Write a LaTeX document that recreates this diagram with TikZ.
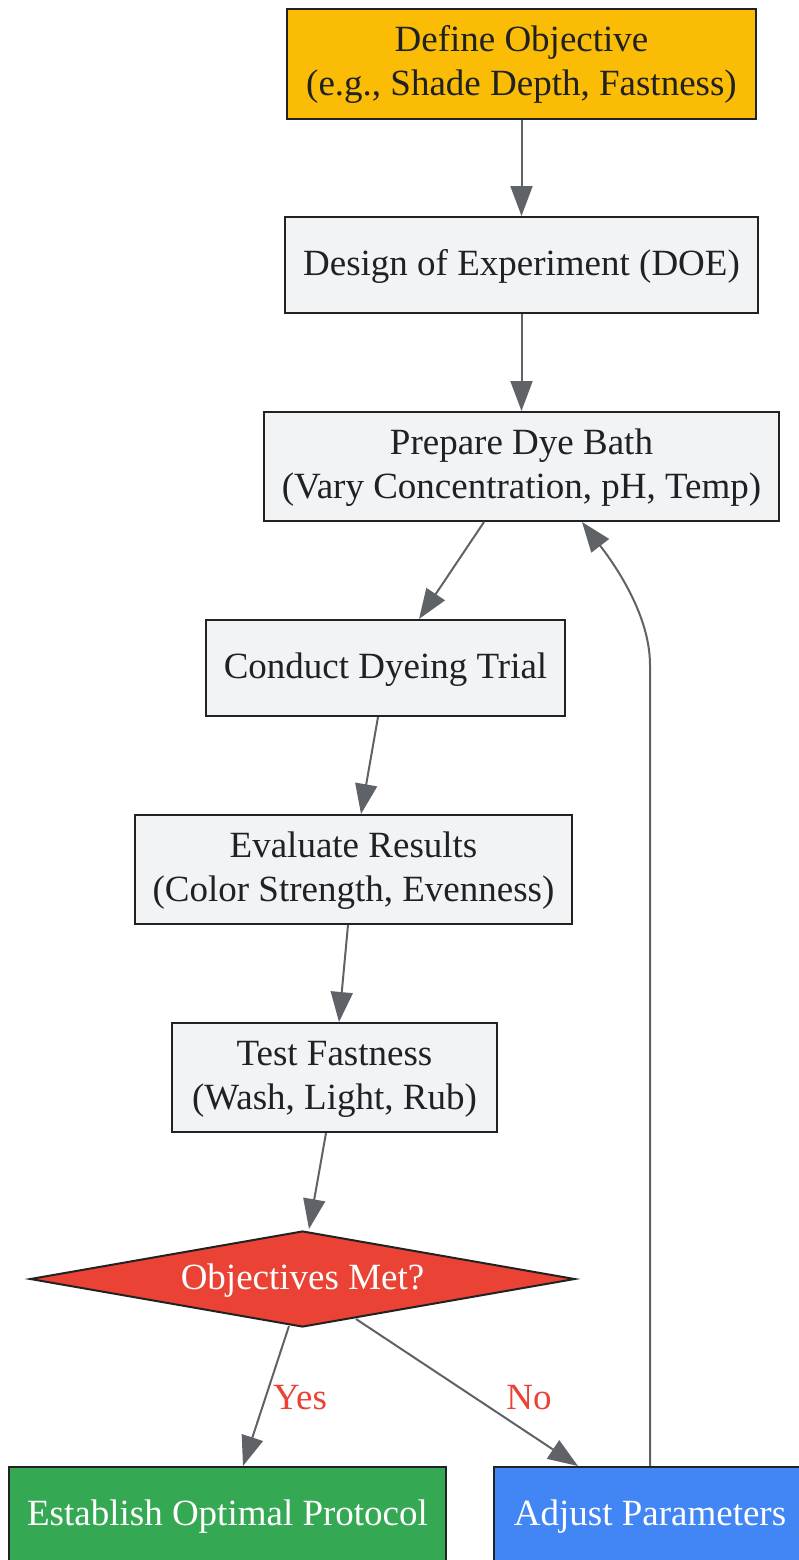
\documentclass[tikz,border=0pt]{standalone}
\usepackage{fontspec}
\setmainfont{Liberation Serif}
\usetikzlibrary{shapes.geometric,arrows.meta,calc}
\definecolor{gyellow}{HTML}{FBBC05}
\definecolor{gred}{HTML}{EA4335}
\definecolor{ggreen}{HTML}{34A853}
\definecolor{gblue}{HTML}{4285F4}
\definecolor{lightbox}{HTML}{F1F3F5}
\definecolor{edgegray}{HTML}{5F6368}
\definecolor{borderdark}{HTML}{222222}
\definecolor{textdark}{HTML}{202124}
\newcommand\mystrut{\rule[-8pt]{0pt}{36pt}}
\begin{document}
\begin{tikzpicture}[x=1pt,y=-1pt,
  every node/.style={font=\fontsize{37}{44}\selectfont},
  box/.style={draw=borderdark, line width=2pt, fill=lightbox, text=textdark, align=center, inner sep=0pt},
  decision/.style={diamond, draw=borderdark, line width=2pt, fill=gred, text=white, inner sep=0pt, aspect=5.68},
  flow/.style={draw=edgegray, line width=2pt, -{Triangle[length=30pt,width=22pt]}},
  lbl/.style={text=gred, inner sep=0pt}
]
\useasboundingbox[fill=white] (0,0) rectangle (798,1560);

\node[box, fill=gyellow, minimum width=469pt, minimum height=110pt] (obj) at (521.5,64) {\mystrut Define Objective\\\mystrut(e.g., Shade Depth, Fastness)};
\node[box, minimum width=473pt, minimum height=96pt] (doe) at (521.5,265) {\mystrut Design of Experiment (DOE)};
\node[box, minimum width=515pt, minimum height=109pt] (prep) at (521.5,466.5) {\mystrut Prepare Dye Bath\\\mystrut(Vary Concentration, pH, Temp)};
\node[box, minimum width=359pt, minimum height=96pt] (trial) at (385.5,668) {\mystrut Conduct Dyeing Trial};
\node[box, minimum width=437pt, minimum height=109pt] (eval) at (353.5,869.5) {\mystrut Evaluate Results\\\mystrut(Color Strength, Evenness)};
\node[box, minimum width=325pt, minimum height=109pt] (fast) at (334.5,1077.5) {\mystrut Test Fastness\\\mystrut(Wash, Light, Rub)};
\node[decision, minimum width=545pt, minimum height=96pt] (met) at (302.5,1279) {\mystrut Objectives Met?};
\node[box, fill=ggreen, text=white, minimum width=437pt, minimum height=96pt] (est) at (227.5,1515) {\mystrut Establish Optimal Protocol};
\node[box, fill=gblue, text=white, minimum width=312pt, minimum height=96pt] (adj) at (650,1515) {\mystrut Adjust Parameters};

\draw[flow] (obj.south) -- (doe.north);
\draw[flow] (doe.south) -- (prep.north);
\draw[flow] ($(prep.south)+(-37.5,0)$) -- ($(trial.north)+(33.5,0)$);
\draw[flow] ($(trial.south)+(-7.5,0)$) -- ($(eval.north)+(7.5,0)$);
\draw[flow] ($(eval.south)+(-5.5,0)$) -- ($(fast.north)+(4.5,0)$);
\draw[flow] ($(fast.south)+(-8.5,0)$) -- ($(met.north)+(6.5,-1)$);
\draw[flow] ($(met.south)+(-13.5,-2)$) -- ($(est.north)+(15.5,0)$);
\draw[flow] ($(met.south)+(53.5,-9)$) -- ($(adj.north)+(-72,0)$);
\coordinate (bend) at (650,665);
\draw[flow] (adj.north) -- (bend) .. controls (650,615) and (615,565) .. ($(prep.south)+(60.5,0)$);

\node[lbl] (yes) at (300,1398) {Yes};
\node[lbl] (no) at (529,1398) {No};
\end{tikzpicture}
\end{document}
